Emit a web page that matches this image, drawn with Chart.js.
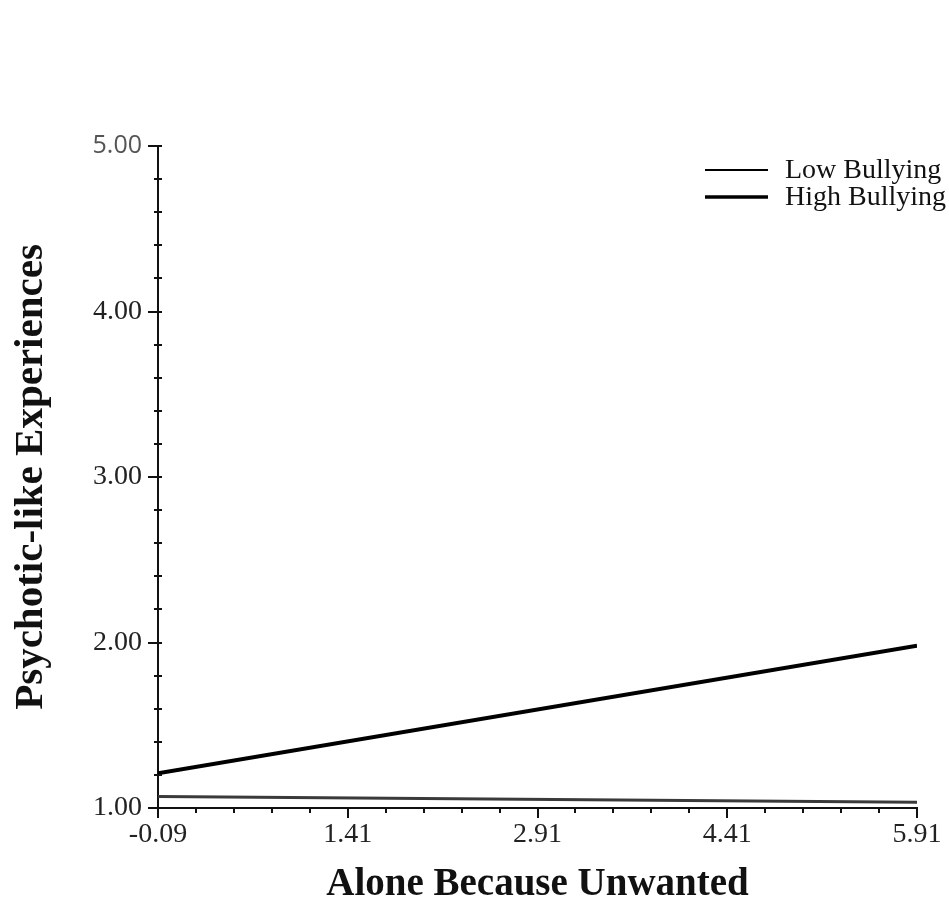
<!DOCTYPE html>
<html>
<head>
<meta charset="utf-8">
<script src="https://cdn.jsdelivr.net/npm/chart.js@4.4.1/dist/chart.umd.min.js"></script>
<style>
    html, body { margin: 0; padding: 0; background: #fff; }
    #wrap { width: 949px; height: 906px; }
</style>
</head>
<body>
<div id="wrap"><canvas id="chart" width="949" height="906"></canvas></div>
<script>
// --- Data ---
const xValues = [-0.09, 5.91];            // Alone Because Unwanted (ends of the lines)
const lowBullying = [1.07, 1.035];        // Psychotic-like Experiences, low bullying
const highBullying = [1.21, 1.98];        // Psychotic-like Experiences, high bullying
const seriesNames = ['Low Bullying', 'High Bullying'];
const xTickLabels = ['-0.09', '1.41', '2.91', '4.41', '5.91'];
const yTickLabels = ['1.00', '2.00', '3.00', '4.00', '5.00'];
const minorPerMajor = 5; // minor tick subdivisions between labelled ticks

const serif = '"Liberation Serif", "Times New Roman", serif';

// helper: minor tick values between labelled ticks
function minorTicks(labels) {
    const vals = labels.map(Number);
    const out = [];
    for (let i = 0; i < vals.length - 1; i++) {
        const step = (vals[i + 1] - vals[i]) / minorPerMajor;
        for (let k = 1; k < minorPerMajor; k++) out.push(vals[i] + step * k);
    }
    return out;
}

// Draws the tick marks (major + minor) and the legend
const axisDecor = {
    id: 'axisDecor',
    afterDraw(chart) {
        const { ctx, scales: { x, y } } = chart;
        const ax = x.getPixelForValue(Number(xTickLabels[0]));
        const ay = y.getPixelForValue(Number(yTickLabels[0]));
        ctx.save();
        ctx.strokeStyle = '#111';
        ctx.lineWidth = 2;
        ctx.beginPath();
        // x axis: ticks hang below the axis
        xTickLabels.forEach(v => {
            const px = Math.round(x.getPixelForValue(Number(v)));
            ctx.moveTo(px, ay); ctx.lineTo(px, ay + 10);
        });
        minorTicks(xTickLabels).forEach(v => {
            const px = Math.round(x.getPixelForValue(v));
            ctx.moveTo(px, ay); ctx.lineTo(px, ay + 5);
        });
        // y axis: major ticks stick out left, minor ticks cross the axis
        yTickLabels.forEach(v => {
            const py = Math.round(y.getPixelForValue(Number(v)));
            ctx.moveTo(ax - 10, py); ctx.lineTo(ax + 4, py);
        });
        minorTicks(yTickLabels).forEach(v => {
            const py = Math.round(y.getPixelForValue(v));
            ctx.moveTo(ax - 4, py); ctx.lineTo(ax + 4, py);
        });
        ctx.stroke();

        // legend
        const legendY = [170, 197];
        const legendWidth = [2, 3.5];
        chart.data.datasets.forEach((ds, i) => {
            ctx.strokeStyle = '#000';
            ctx.lineWidth = legendWidth[i];
            ctx.beginPath();
            ctx.moveTo(705, legendY[i]);
            ctx.lineTo(768, legendY[i]);
            ctx.stroke();
            ctx.fillStyle = '#111';
            ctx.font = '28px ' + serif;
            ctx.textBaseline = 'middle';
            ctx.fillText(ds.label, 785, legendY[i] + 1);
        });
        ctx.restore();
    }
};

const ctx = document.getElementById('chart').getContext('2d');
const chart = new Chart(ctx, {
    type: 'line',
    data: {
        datasets: [
            {
                label: seriesNames[0],
                data: xValues.map((xv, i) => ({ x: xv, y: lowBullying[i] })),
                borderColor: '#3a3a3a',
                borderWidth: 3,
                pointRadius: 0,
                tension: 0
            },
            {
                label: seriesNames[1],
                data: xValues.map((xv, i) => ({ x: xv, y: highBullying[i] })),
                borderColor: '#000',
                borderWidth: 4,
                pointRadius: 0,
                tension: 0
            }
        ]
    },
    options: {
        responsive: false,
        animation: false,
        layout: { padding: { top: 146, right: 32, left: 0, bottom: 0 } },
        plugins: {
            legend: { display: false },
            tooltip: { enabled: false }
        },
        scales: {
            x: {
                type: 'linear',
                min: Number(xTickLabels[0]),
                max: Number(xTickLabels[xTickLabels.length - 1]),
                afterBuildTicks: s => { s.ticks = xTickLabels.map(v => ({ value: Number(v) })); },
                afterFit: s => { s.height = 98; s.paddingRight = 0; s.paddingLeft = 0; },
                grid: { display: false, drawTicks: false },
                border: { display: true, color: '#111', width: 2 },
                ticks: {
                    autoSkip: false,
                    maxRotation: 0,
                    padding: 10,
                    color: '#222',
                    font: { family: serif, size: 28 },
                    callback: v => v.toFixed(2)
                },
                title: {
                    display: true,
                    text: 'Alone Because Unwanted',
                    color: '#111',
                    font: { family: serif, size: 39, weight: 'bold', lineHeight: 1.1 },
                    padding: { top: 0, bottom: 0 }
                }
            },
            y: {
                type: 'linear',
                min: Number(yTickLabels[0]),
                max: Number(yTickLabels[yTickLabels.length - 1]),
                afterBuildTicks: s => { s.ticks = yTickLabels.map(v => ({ value: Number(v) })); },
                afterFit: s => { s.width = 158; },
                grid: { display: false, drawTicks: false },
                border: { display: true, color: '#111', width: 2 },
                ticks: {
                    padding: 16,
                    color: c => (c.tick && c.tick.value === 5 ? '#555' : '#222'),
                    font: c => (c.tick && c.tick.value === 5
                        ? { family: '"Open Sans", "DejaVu Sans", sans-serif', size: 25 }
                        : { family: serif, size: 28 }),
                    callback: v => v.toFixed(2)
                },
                title: {
                    display: true,
                    text: 'Psychotic-like Experiences',
                    color: '#111',
                    font: { family: serif, size: 41, weight: 'bold', lineHeight: 1.2 },
                    padding: { top: 7, bottom: 0 }
                }
            }
        }
    },
    plugins: [axisDecor]
});
</script>
</body>
</html>
